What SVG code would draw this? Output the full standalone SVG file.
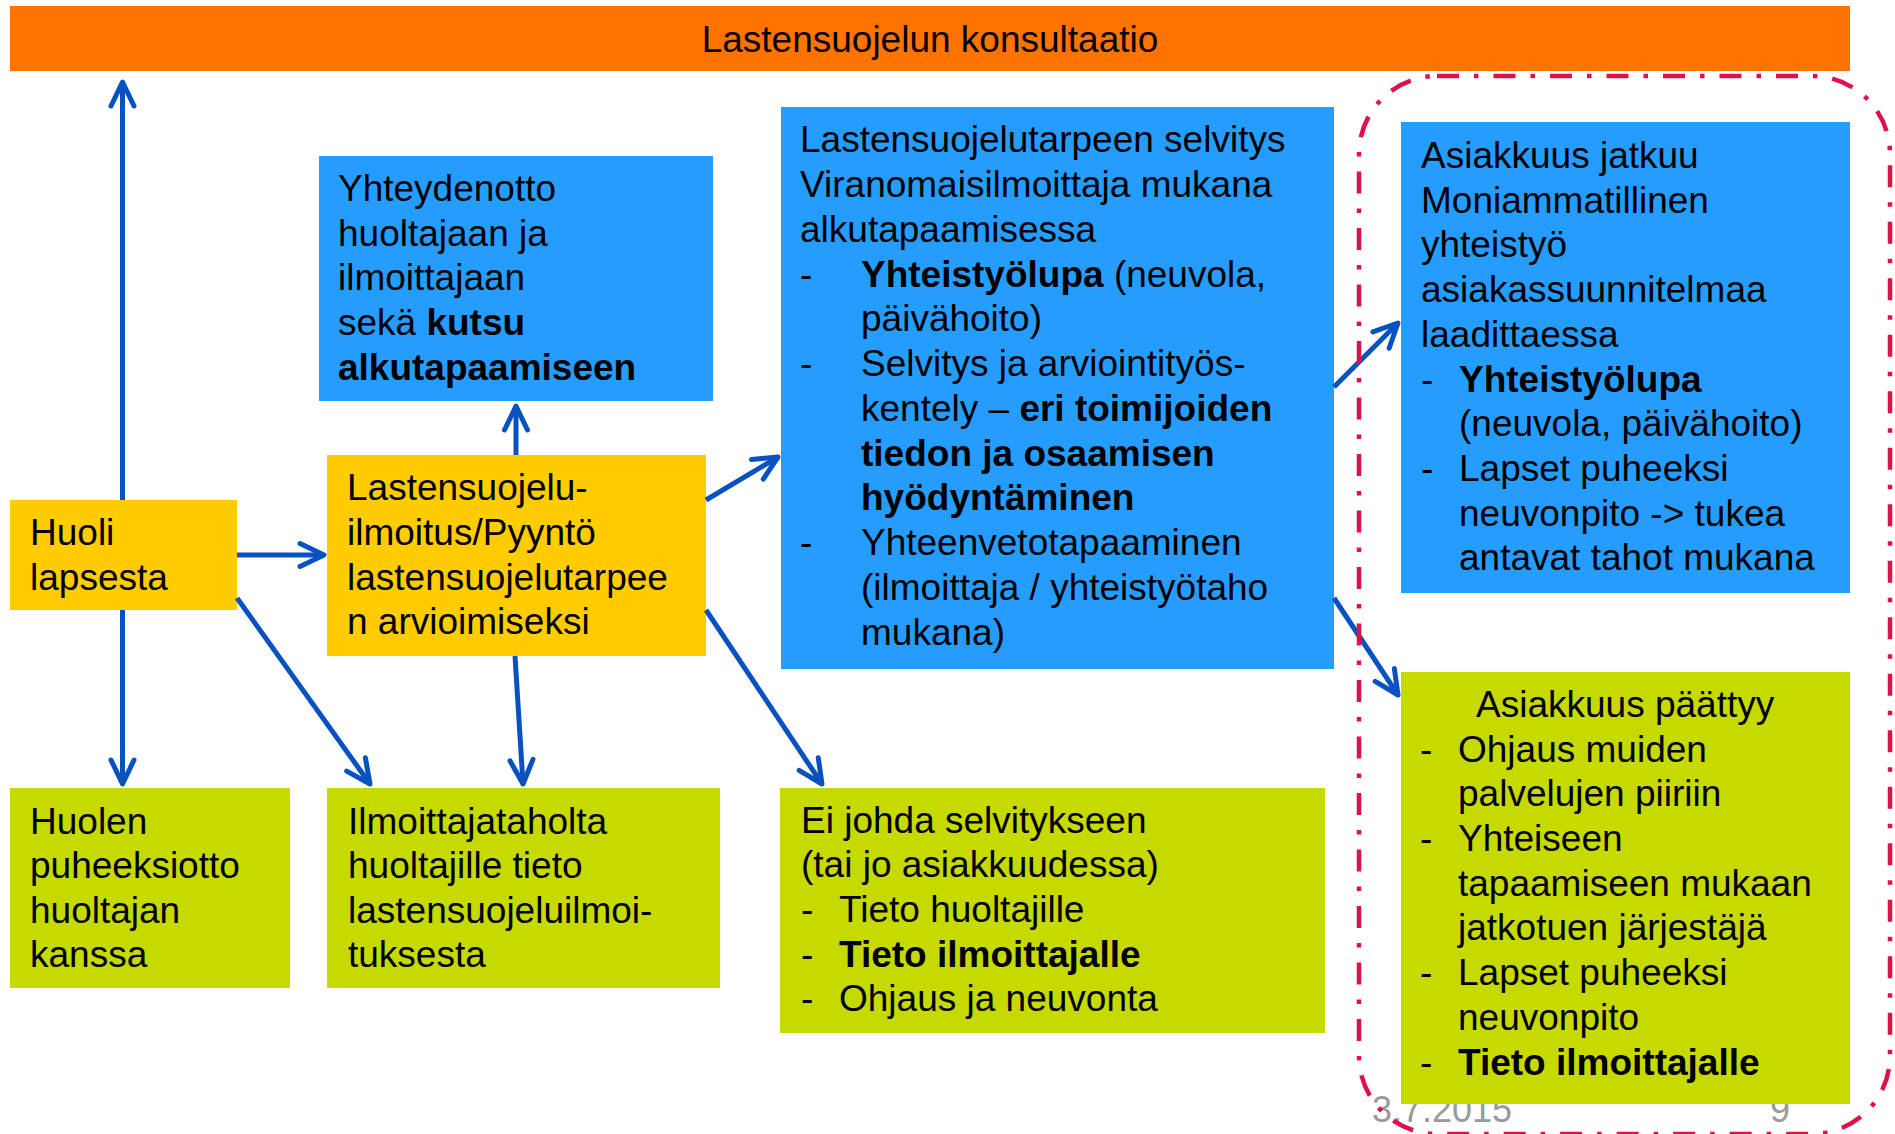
<svg xmlns="http://www.w3.org/2000/svg" width="1895" height="1134" viewBox="0 0 1895 1134">
<defs>
<style>
text { font-family: "Liberation Sans", Arial, sans-serif; font-size: 37px; fill: #000; }
.b { font-weight: bold; }
.orange { fill: #FF7300; }
.yellow { fill: #FFCC00; }
.blue { fill: #259DFF; }
.green { fill: #C6DA00; }
.conn line { stroke: #0752C0; stroke-width: 5; marker-end: url(#ah); }
.foot { fill: #9A9A9A; font-size: 36px; }
.group { fill: none; stroke: #E0104A; stroke-width: 4.5; stroke-dasharray: 22 15 4.5 15; }
</style>
<marker id="ah" markerUnits="userSpaceOnUse" markerWidth="40" markerHeight="40" refX="0" refY="0" orient="auto" style="overflow:visible">
<path d="M-24,-11.5 L0,0 L-24,11.5" fill="none" stroke="#0752C0" stroke-width="5" stroke-linecap="round" stroke-linejoin="round"/>
</marker>
</defs>
<rect width="1895" height="1134" fill="#fff"/>

<g id="footer">
<text class="foot" x="1372" y="1122">3.7.2015</text>
<text class="foot" x="1770" y="1122">9</text>
</g>

<g id="konsultaatio">
<rect class="orange" x="10" y="6" width="1840" height="65"/>
<text x="930" y="52" text-anchor="middle">Lastensuojelun konsultaatio</text>
</g>

<g id="yhteydenotto">
<rect class="blue" x="319" y="156" width="394" height="245"/>
<text x="338" y="201">Yhteydenotto</text>
<text x="338" y="246">huoltajaan ja</text>
<text x="338" y="290">ilmoittajaan</text>
<text x="338" y="335">sekä <tspan class="b">kutsu</tspan></text>
<text x="338" y="380" class="b">alkutapaamiseen</text>
</g>

<g id="huoli">
<rect class="yellow" x="10" y="500" width="227" height="110"/>
<text x="30" y="545">Huoli</text>
<text x="30" y="590">lapsesta</text>
</g>

<g id="ilmoitus">
<rect class="yellow" x="327" y="455" width="379" height="201"/>
<text x="347" y="500">Lastensuojelu-</text>
<text x="347" y="545">ilmoitus/Pyyntö</text>
<text x="347" y="590">lastensuojelutarpee</text>
<text x="347" y="634">n arvioimiseksi</text>
</g>

<g id="selvitys">
<rect class="blue" x="781" y="107" width="553" height="562"/>
<text x="800" y="152">Lastensuojelutarpeen selvitys</text>
<text x="800" y="197">Viranomaisilmoittaja mukana</text>
<text x="800" y="242">alkutapaamisessa</text>
<text x="800" y="287">-</text>
<text x="861" y="287"><tspan class="b">Yhteistyölupa</tspan> (neuvola,</text>
<text x="861" y="331">päivähoito)</text>
<text x="800" y="376">-</text>
<text x="861" y="376">Selvitys ja arviointityös-</text>
<text x="861" y="421">kentely – <tspan class="b">eri toimijoiden</tspan></text>
<text x="861" y="466" class="b">tiedon ja osaamisen</text>
<text x="861" y="510" class="b">hyödyntäminen</text>
<text x="800" y="555">-</text>
<text x="861" y="555">Yhteenvetotapaaminen</text>
<text x="861" y="600">(ilmoittaja / yhteistyötaho</text>
<text x="861" y="645">mukana)</text>
</g>

<g id="jatkuu">
<rect class="blue" x="1401" y="122" width="449" height="471"/>
<text x="1421" y="168">Asiakkuus jatkuu</text>
<text x="1421" y="213">Moniammatillinen</text>
<text x="1421" y="257">yhteistyö</text>
<text x="1421" y="302">asiakassuunnitelmaa</text>
<text x="1421" y="347">laadittaessa</text>
<text x="1421" y="392">-</text>
<text x="1459" y="392" class="b">Yhteistyölupa</text>
<text x="1459" y="436">(neuvola, päivähoito)</text>
<text x="1421" y="481">-</text>
<text x="1459" y="481">Lapset puheeksi</text>
<text x="1459" y="526">neuvonpito -&gt; tukea</text>
<text x="1459" y="570">antavat tahot mukana</text>
</g>

<g id="paattyy">
<rect class="green" x="1401" y="672" width="449" height="432"/>
<text x="1476" y="717">Asiakkuus päättyy</text>
<text x="1420" y="762">-</text>
<text x="1458" y="762">Ohjaus muiden</text>
<text x="1458" y="806">palvelujen piiriin</text>
<text x="1420" y="851">-</text>
<text x="1458" y="851">Yhteiseen</text>
<text x="1458" y="896">tapaamiseen mukaan</text>
<text x="1458" y="940">jatkotuen järjestäjä</text>
<text x="1420" y="985">-</text>
<text x="1458" y="985">Lapset puheeksi</text>
<text x="1458" y="1030">neuvonpito</text>
<text x="1420" y="1075">-</text>
<text x="1458" y="1075" class="b">Tieto ilmoittajalle</text>
</g>

<g id="huolen">
<rect class="green" x="10" y="788" width="280" height="200"/>
<text x="30" y="834">Huolen</text>
<text x="30" y="878">puheeksiotto</text>
<text x="30" y="923">huoltajan</text>
<text x="30" y="967">kanssa</text>
</g>

<g id="ilmoittajataholta">
<rect class="green" x="327" y="788" width="393" height="200"/>
<text x="348" y="834">Ilmoittajataholta</text>
<text x="348" y="878">huoltajille tieto</text>
<text x="348" y="923">lastensuojeluilmoi-</text>
<text x="348" y="967">tuksesta</text>
</g>

<g id="eijohda">
<rect class="green" x="780" y="788" width="545" height="245"/>
<text x="801" y="833">Ei johda selvitykseen</text>
<text x="801" y="877">(tai jo asiakkuudessa)</text>
<text x="801" y="922">-</text>
<text x="839" y="922">Tieto huoltajille</text>
<text x="801" y="967">-</text>
<text x="839" y="967" class="b">Tieto ilmoittajalle</text>
<text x="801" y="1011">-</text>
<text x="839" y="1011">Ohjaus ja neuvonta</text>
</g>

<g id="connectors" class="conn">
<line x1="122.5" y1="500" x2="122.5" y2="82"/>
<line x1="122.5" y1="610" x2="122.5" y2="784"/>
<line x1="237" y1="555" x2="324" y2="555"/>
<line x1="237" y1="598" x2="370" y2="784"/>
<line x1="516" y1="455" x2="516" y2="406"/>
<line x1="515" y1="656" x2="523" y2="784"/>
<line x1="706" y1="500" x2="778" y2="457"/>
<line x1="706" y1="610" x2="822" y2="784"/>
<line x1="1334" y1="387" x2="1398" y2="323"/>
<line x1="1334" y1="598" x2="1398" y2="695"/>
</g>

<g id="grouping">
<rect class="group" x="1359" y="76" width="531" height="1058" rx="78" ry="78"/>
</g>
</svg>
